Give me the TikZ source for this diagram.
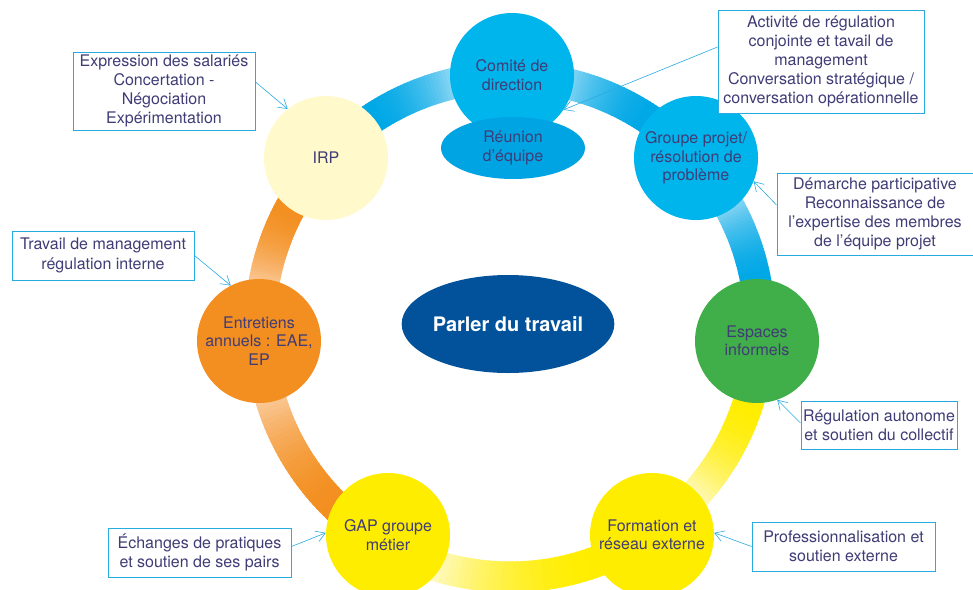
\documentclass[tikz,border=0pt]{standalone}
\usepackage{fontspec}
\setmainfont{TeX Gyre Heros}
\usetikzlibrary{positioning,arrows.meta,shapes.geometric}

\definecolor{txt}{RGB}{64,60,118}
\definecolor{cyanbox}{RGB}{41,171,226}
\definecolor{ringblue}{RGB}{0,168,230}
\definecolor{ringbluel}{RGB}{150,218,245}
\definecolor{compblue}{RGB}{0,180,236}
\definecolor{reunblue}{RGB}{0,164,226}
\definecolor{irpyellow}{RGB}{255,249,204}
\definecolor{espgreen}{RGB}{64,174,73}
\definecolor{formyellow}{RGB}{255,237,0}
\definecolor{ringyellowl}{RGB}{255,250,200}
\definecolor{entorange}{RGB}{243,143,32}
\definecolor{ringorangel}{RGB}{251,205,160}
\definecolor{centreblue}{RGB}{2,82,155}

\begin{document}
\begin{tikzpicture}[x=1pt,y=1pt,
  lieu/.style={circle,minimum size=124pt,inner sep=0pt,align=center,text=txt,font=\fontsize{16}{18.5}\selectfont},
  note/.style={draw=cyanbox,line width=1pt,fill=white,align=center,text=txt,inner sep=0pt,font=\fontsize{16}{19.2}\selectfont},
  fleche/.style={cyanbox,line width=0.6pt,-{Straight Barb[length=9pt,width=11pt]}},
  anneau/.style={line width=31pt}]

% Frame
\useasboundingbox[fill=white] (0,0) rectangle (973,-589);

% Centre of the ring
\coordinate (C) at (510,-327);

% Ring, drawn in small pieces to get the colour fades
\foreach \a/\b/\cd/\cl/\le in {90/42.3/ringblue/ringbluel/0,
    42.3/-3.2/ringblue/ringbluel/0,
    -3.2/-55.7/formyellow/ringyellowl/1,
    -55.7/-120.4/formyellow/ringyellowl/1,
    -120.4/-176.8/entorange/ringorangel/1,
    -176.8/-222.6/entorange/ringorangel/0,
    -222.6/-270/ringblue/ringbluel/1}{
  \foreach \k in {0,...,29}{
    \pgfmathsetmacro\aa{(\a-12)+((\b+12)-(\a-12))*\k/30}
    \pgfmathsetmacro\bb{(\a-12)+((\b+12)-(\a-12))*(\k+1.4)/30}
    \pgfmathsetmacro\s{\le*\k/29+(1-\le)*(1-\k/29)}
    \pgfmathtruncatemacro\p{100*\s*\s}
    \draw[anneau,color=\cl!\p!\cd] ([shift={(\aa:250pt)}]C) arc[start angle=\aa,end angle=\bb,radius=250pt];
  }
}

% Places where people talk about work
\node[lieu,fill=compblue] (comite) at (512,-75) {Comité de\\direction};
\node[lieu,fill=compblue] (groupe) at (696,-158) {Groupe projet/\\résolution de\\problème};
\node[lieu,fill=espgreen] (espaces) at (757,-341) {Espaces\\informels};
\node[lieu,fill=formyellow] (formation) at (652,-535) {Formation et\\réseau externe};
\node[lieu,fill=formyellow] (gap) at (388,-535) {GAP groupe\\métier};
\node[lieu,fill=entorange] (entretiens) at (259,-341) {Entretiens\\annuels : EAE,\\EP};
\node[lieu,fill=irpyellow] (irp) at (326,-158) {IRP};
\node[lieu,ellipse,fill=reunblue,minimum width=144pt,minimum height=62pt] (reunion) at (513,-148) {Réunion\\d’équipe};

% Centre
\node[ellipse,fill=centreblue,minimum width=174pt,minimum height=98pt,inner sep=0pt,text=white,font=\bfseries\fontsize{20}{24}\selectfont] (parler) at (508,-324) {Parler du travail};

% Notes
\node[note,minimum width=182pt,minimum height=78pt] (expression) at (164,-91) {Expression des salariés\\Concertation -\\Négociation\\Expérimentation};
\node[note,minimum width=182pt,minimum height=49pt] (travail) at (103,-255.5) {Travail de management\\régulation interne};
\node[note,minimum width=206pt,minimum height=103pt] (activite) at (821,-61.5) {Activité de régulation\\conjointe et tavail de\\management\\Conversation stratégique /\\conversation opérationnelle};
\node[note,minimum width=196pt,minimum height=82pt] (demarche) at (875,-214) {Démarche participative\\Reconnaissance de\\l’expertise des membres\\de l’équipe projet};
\node[note,minimum width=156pt,minimum height=48pt] (regulation) at (879,-425) {Régulation autonome\\et soutien du collectif};
\node[note,minimum width=183pt,minimum height=49pt] (profession) at (843.5,-546.5) {Professionnalisation et\\soutien externe};
\node[note,minimum width=183pt,minimum height=49pt] (echanges) at (199.5,-552.5) {Échanges de pratiques\\et soutien de ses pairs};

% Arrows from the notes
\draw[fleche] ([yshift=9pt]expression.east) -- (irp.128);
\draw[fleche] (travail.east) -- (entretiens.117);
\draw[fleche] ([yshift=14.5pt]activite.west) -- (comite.-34);
\draw[fleche] ([yshift=9pt]demarche.west) -- (groupe.-22);
\draw[fleche] ([yshift=2pt]regulation.west) -- (espaces.-71);
\draw[fleche] (profession.west) -- (formation.2);
\draw[fleche] ([yshift=6pt]echanges.east) -- (gap.178);
\end{tikzpicture}
\end{document}
